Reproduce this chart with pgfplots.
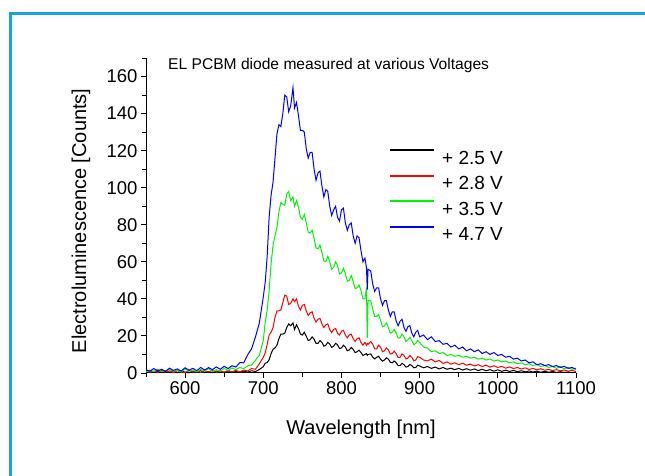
\documentclass[border=0pt]{standalone}
\usepackage{pgfplots}
\pgfplotsset{compat=1.18}
\usepackage{pgfplotstable}
\usepackage{fontspec}
\setmainfont{Liberation Sans}
\definecolor{framecol}{RGB}{20,165,225}
\definecolor{lgreen}{RGB}{0,245,0}

\pgfplotstableread{
wl k r g b
550 0.5 1.2 0.6 1.8
555 1.3 0.4 1.5 1.0
560 0.2 1.0 0.8 2.4
565 0.9 0.3 2.0 1.2
570 0.4 1.5 0.7 2.0
575 1.1 0.6 1.3 0.9
580 0.3 1.1 1.9 2.6
585 0.8 0.2 0.9 1.4
590 0.2 1.3 1.6 2.2
595 1.0 0.7 0.5 1.1
600 0.5 0.2 2.2 2.8
605 0.1 1.4 1.0 1.5
610 0.9 0.5 1.7 2.5
615 0.4 1.0 0.6 1.3
620 1.2 0.3 1.9 3.0
625 0.3 1.2 1.2 1.6
630 0.7 0.6 2.3 2.9
635 0.2 1.5 0.9 1.8
640 1.0 0.4 1.8 3.3
645 0.5 1.1 1.1 2.0
650 0.3 0.5 2.4 3.6
655 1.1 1.3 1.4 2.4
660 0.4 0.7 2.7 3.9
665 0.8 1.4 1.8 3.2
670 0.3 0.6 3.0 5.6
675 1.0 1.6 2.4 5.5
680 0.5 1.1 3.8 9.8
685 1.2 2.4 4.3 13.0
690 0.8 2.0 6.9 19.5
695 1.9 5.0 9.6 27.0
700 3.4 8.5 17.5 41.0
702.5 5.3 10.8 27.5 49.0
705 5.6 15.5 34.0 63.0
707.5 7.2 20.5 44.0 84.0
710 10.5 22.0 59.0 96.0
712.5 12.8 24.5 69.0 103.0
715 13.5 30.0 74.0 116.0
717.5 15.0 33.5 78.5 129.0
720 18.5 33.5 87.0 134.0
722.5 21.0 34.0 92.0 133.0
725 21.0 38.0 91.0 140.0
727.5 21.5 42.0 90.5 150.0
730 24.5 41.5 96.5 149.0
732.5 26.5 37.0 98.0 141.0
735 25.5 37.5 93.0 144.0
738 27.0 40.0 95.0 154.0
740 23.5 38.5 90.0 143.0
742.5 26.0 40.0 93.0 146.0
745 24.0 36.0 89.5 139.0
747.5 21.0 34.0 84.0 131.0
750 20.5 36.5 83.0 131.0
752.5 22.0 37.0 85.5 130.0
755 19.8 33.5 81.0 121.0
757.5 17.5 31.0 76.0 116.0
760 18.0 32.5 75.5 119.0
762.5 19.5 33.0 77.0 119.0
765 18.2 29.5 72.5 110.0
767.5 16.0 27.5 67.5 104.0
770 16.0 29.0 67.0 108.0
772.5 17.5 29.5 69.0 109.0
775 16.5 26.5 65.0 101.0
777.5 14.5 24.5 60.5 95.0
780 15.0 26.0 60.0 99.0
782.5 16.5 26.5 63.0 98.0
785 15.6 23.5 60.0 90.0
787.5 13.8 21.8 56.0 85.0
790 14.5 23.5 57.0 88.0
792.5 16.0 24.0 60.0 90.0
795 15.2 21.5 58.0 84.0
797.5 13.2 20.5 53.5 82.0
800 13.5 22.5 54.0 88.0
802.5 15.0 23.0 56.5 89.0
805 14.0 20.5 53.5 81.0
807.5 12.0 19.0 49.5 77.0
810 12.5 20.5 50.0 80.0
812.5 13.8 21.0 52.5 81.0
815 12.8 18.5 49.5 74.0
817.5 11.0 17.0 45.5 70.0
820 11.5 18.5 46.0 74.0
822.5 12.3 19.0 47.5 73.0
825 11.0 16.5 44.5 66.0
827.5 9.5 15.0 40.0 60.0
830 10.0 16.5 40.0 62.0
832 10.5 15.0 46.0 57.0
833 9.5 16.0 19.0 45.0
834 10.0 15.5 39.0 56.0
837.5 10.3 17.0 39.0 55.0
840 8.5 15.5 34.5 48.0
842.5 7.6 13.0 30.5 44.0
845 8.5 13.0 30.5 46.0
847.5 9.0 15.0 31.5 46.0
850 7.5 14.0 28.5 40.0
852.5 6.4 11.5 25.0 36.5
855 7.0 12.0 25.5 39.0
857.5 8.2 13.5 27.0 39.0
860 7.5 12.5 24.5 34.0
862.5 5.8 10.2 21.5 30.5
865 5.5 10.5 22.0 33.0
867.5 6.5 11.8 23.5 33.0
870 5.5 10.5 21.5 28.0
872.5 4.0 8.3 18.8 25.5
875 4.0 8.5 19.0 28.0
877.5 5.2 10.3 21.0 29.0
880 4.5 9.5 19.5 24.5
882.5 3.2 7.6 17.0 22.5
885 3.5 8.0 18.0 25.0
887.5 4.6 9.4 19.2 25.5
890 4.0 8.5 17.5 21.5
892.5 2.8 6.6 15.3 19.5
895 3.0 7.0 16.0 22.0
897.5 4.2 8.8 17.6 23.0
900 3.8 8.5 16.5 19.5
905 2.8 7.0 14.0 20.5
910 3.5 6.5 13.5 18.0
915 2.5 7.5 11.5 19.5
920 3.2 6.0 12.0 17.0
925 2.2 6.8 10.5 17.5
930 3.0 5.2 11.0 15.5
935 2.0 6.0 9.5 16.0
940 2.6 4.8 10.0 14.0
945 1.8 5.5 9.0 15.0
950 2.5 4.5 9.5 13.0
955 1.6 5.3 8.5 14.0
960 2.3 4.2 9.0 12.0
965 1.5 4.8 8.0 13.0
970 2.2 3.8 8.5 11.5
975 1.3 4.5 7.5 12.5
980 2.0 3.5 8.0 10.5
985 1.2 4.2 7.0 11.5
990 1.8 3.2 7.5 10.0
995 1.0 3.9 6.5 11.0
1000 1.7 3.0 7.0 9.5
1005 0.9 3.6 6.0 10.0
1010 1.5 2.6 6.5 8.5
1015 0.8 3.3 5.5 9.0
1020 1.4 2.4 6.0 7.5
1025 0.7 3.0 5.0 8.0
1030 1.2 2.1 5.5 6.5
1035 0.6 2.8 4.5 7.0
1040 1.1 1.9 5.0 5.5
1045 0.5 2.5 4.0 6.0
1050 1.0 1.7 4.5 4.5
1055 0.4 2.3 3.5 5.0
1060 0.9 1.5 4.0 4.0
1065 0.4 2.0 3.0 4.5
1070 0.8 1.3 3.5 3.5
1075 0.3 1.8 2.5 4.0
1080 0.7 1.2 3.5 3.0
1085 0.3 1.6 2.2 3.6
1090 0.6 1.0 3.0 2.5
1095 0.2 1.4 2.0 3.0
1100 0.5 0.9 2.6 2.0
}\data

\begin{document}
\begin{tikzpicture}[x=1pt,y=1pt]
\path[use as bounding box] (0pt,0pt) rectangle (645pt,476pt);
\fill[white] (0pt,0pt) rectangle (645pt,476pt);
\draw[framecol, line width=3pt] (10pt,0pt) -- (10pt,462pt) -- (645pt,462pt);
\node[anchor=west, inner sep=0pt, font=\fontsize{15.6}{17}\selectfont] at (168pt,411pt) {EL PCBM diode measured at various Voltages};
\begin{axis}[
  at={(146pt,103pt)}, anchor=south west,
  scale only axis, width=430pt, height=315pt,
  xmin=550, xmax=1100, ymin=0, ymax=170,
  axis x line*=bottom, axis y line*=left,
  axis line style={-, line width=1pt},
  xtick={600,700,...,1100}, minor xtick={550,650,...,1050},
  ytick={0,20,...,160}, minor ytick={10,30,...,170},
  tick align=outside, major tick length=5pt, minor tick length=4pt,
  every tick/.style={black, line width=0.9pt},
  /pgf/number format/assume math mode=true,
  /pgf/number format/set thousands separator={},
  ticklabel style={font=\fontsize{18.5}{20}\selectfont},
  xticklabel style={anchor=north},
  xlabel={Wavelength [nm]},
  ylabel={Electroluminescence [Counts]},
  label style={font=\fontsize{20}{22}\selectfont},
  xlabel style={at={(rel axis cs:0.5,0)}, anchor=center, yshift=-56pt},
  ylabel style={at={(rel axis cs:0,0.483)}, anchor=center, yshift=65pt},
  legend style={at={(axis cs:860.8,120.8)}, anchor=north west, draw=none, fill=none,
    inner sep=0pt, row sep=10.7pt, column sep=7pt,
    nodes={inner sep=0pt, text height=13.6pt, text depth=0pt, font=\fontsize{19}{21}\selectfont}},
  legend cell align=left,
  legend image code/.code={\draw[#1, line width=2pt] (0pt,7pt) -- (44pt,7pt);},
  clip=false,
]
\addplot[black, line width=1pt] table[x=wl, y=k] {\data};
\addlegendentry{+ 2.5 V}
\addplot[red, line width=1pt] table[x=wl, y=r] {\data};
\addlegendentry{+ 2.8 V}
\addplot[lgreen, line width=1pt] table[x=wl, y=g] {\data};
\addlegendentry{+ 3.5 V}
\addplot[blue, line width=1pt] table[x=wl, y=b] {\data};
\addlegendentry{+ 4.7 V}
\end{axis}
\end{tikzpicture}
\end{document}
